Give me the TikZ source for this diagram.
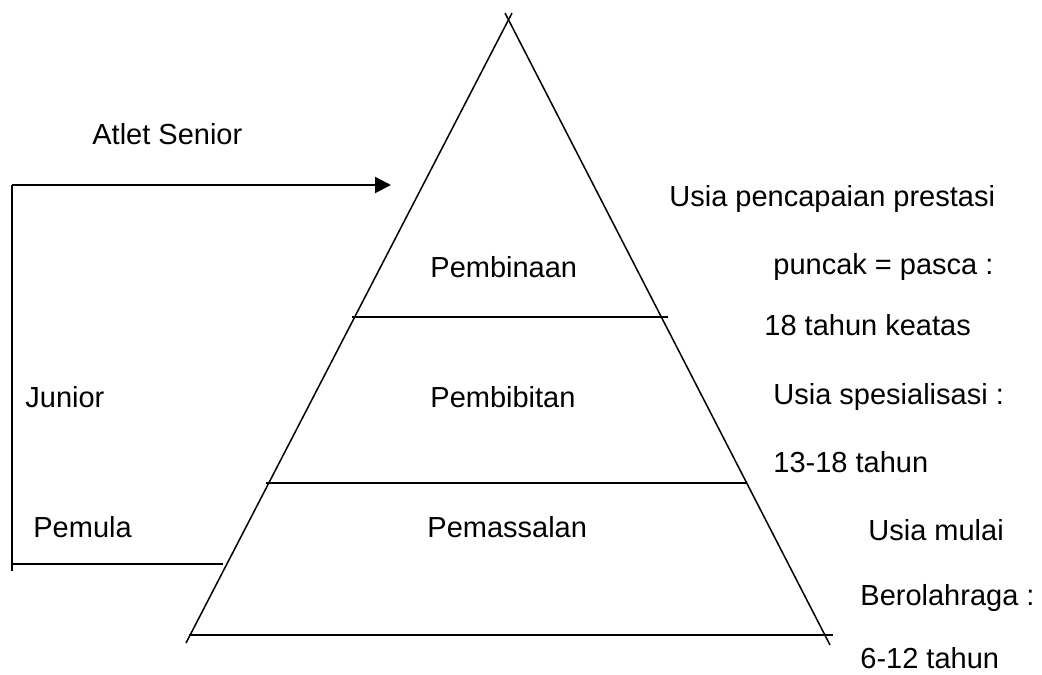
\documentclass[tikz,border=0pt]{standalone}
\usepackage{fontspec}
\setmainfont{Liberation Sans}
\usepackage{tikz}
\usetikzlibrary{arrows.meta, positioning}

\begin{document}
\begin{tikzpicture}[x=0.5pt, y=-0.5pt,
            lbl/.style={inner sep=0pt, anchor=west, font=\fontsize{14.5}{17}\selectfont},
            side/.style={line width=0.75pt},
            level/.style={line width=1pt}]
            \useasboundingbox (0,0) rectangle (1042,674);

            % pyramid
            \coordinate (topL) at (512,13);
            \coordinate (topR) at (505,13);
            \coordinate (footL) at (186,643);
            \coordinate (footR) at (830,645);
            \draw[side] (topL) -- (footL);
            \draw[side] (topR) -- (footR);

            \coordinate (l1a) at (352,317);
            \coordinate (l1b) at (668,317);
            \coordinate (l2a) at (266,483);
            \coordinate (l2b) at (747,483);
            \coordinate (l3a) at (189,635);
            \coordinate (l3b) at (833,635);
            \draw[level] (l1a) -- (l1b);
            \draw[level] (l2a) -- (l2b);
            \draw[level] (l3a) -- (l3b);

            % bracket on the left
            \coordinate (up) at (12,185);
            \coordinate (tip) at (391,185);
            \coordinate (low) at (12,571);
            \coordinate (stub) at (223,564);
            \coordinate (stubL) at (12,564);
            \draw[level] (low) -- (up);
            \draw[level, -{Triangle[length=8pt, width=8pt]}] (up) -- (tip);
            \draw[level] (stubL) -- (stub);

            \node[lbl] (senior) at (92,134) {Atlet Senior};
            \node[lbl] (junior) at (25,397) {Junior};
            \node[lbl] (pemula) at (33,527) {Pemula};

            \node[lbl] (pembinaan) at (430,267) {Pembinaan};
            \node[lbl] (pembibitan) at (430,397) {Pembibitan};
            \node[lbl] (pemassalan) at (427,527) {Pemassalan};

            \node[lbl] (u1) at (669,199) {Usia pencapaian prestasi};
            \node[lbl] (u2) at (773,267) {puncak = pasca :};
            \node[lbl] (u3) at (764,325) {18 tahun keatas};
            \node[lbl] (u4) at (773,397) {Usia spesialisasi :};
            \node[lbl] (u5) at (773,462) {13-18 tahun};
            \node[lbl] (u6) at (868,530) {Usia mulai};
            \node[lbl] (u7) at (860,598) {Berolahraga :};
            \node[lbl] (u8) at (860,658) {6-12 tahun};
        \end{tikzpicture}
\end{document}
